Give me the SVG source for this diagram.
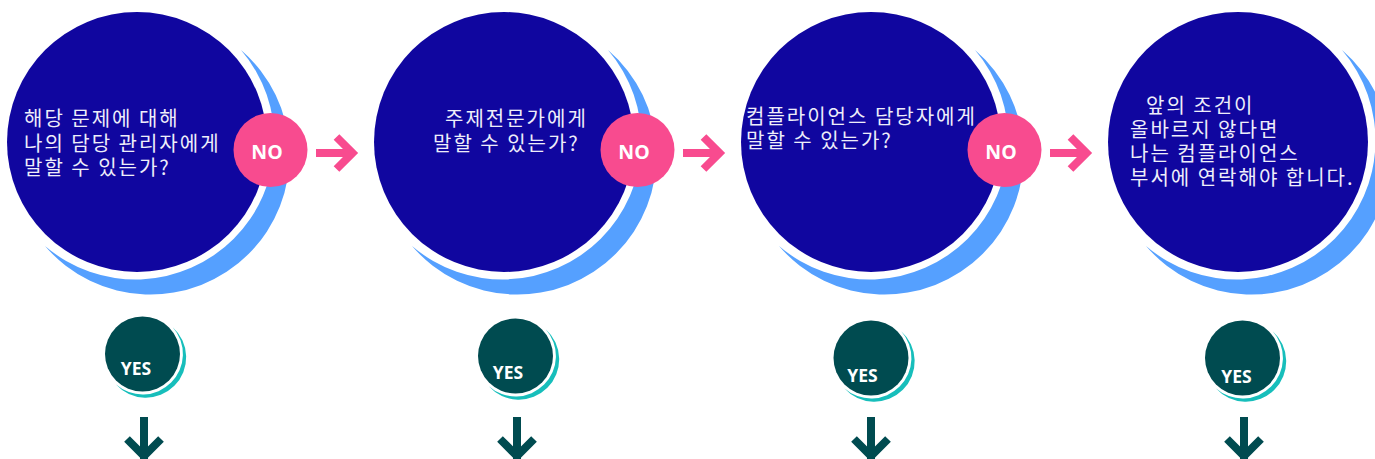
<svg xmlns="http://www.w3.org/2000/svg" xmlns:xlink="http://www.w3.org/1999/xlink" width="1375" height="459" viewBox="0 0 1375 459">
  <style>
    .big { fill: #10069F; }
    .bigc { fill: #55A0FF; }
    .no { fill: #F84B8F; }
    .yes { fill: #004B50; }
    .yesc { fill: #17BEBB; }
    .q { font-family: "Noto Sans CJK KR", "Noto Sans", sans-serif; font-size: 20px; letter-spacing: 2px; fill: #EEEEFA; }
    .lbl { font-family: "Open Sans", "Liberation Sans", sans-serif; font-weight: bold; fill: #FFFFFF; text-anchor: middle; }
    .arrowP { fill: none; stroke: #F84B8F; stroke-width: 8; stroke-linejoin: miter; }
    .arrowD { fill: none; stroke: #004B50; stroke-width: 8; stroke-linejoin: miter; }
  </style>
  <defs>
    <path id="bigCrescent" class="bigc" d="M104,-92 A139 139 0 1 1 -92,104 A139 139 0 0 0 104,-92 Z"/>
    <path id="yesCrescent" class="yesc" d="M30.2,-26.7 A40.3 40.3 0 1 1 -26.7,30.2 A40.3 40.3 0 0 0 30.2,-26.7 Z"/>
  </defs>

  <g id="node-q1">
    <use xlink:href="#bigCrescent" href="#bigCrescent" transform="translate(137,142)"/>
    <circle class="big" cx="137" cy="142" r="130"/>
    <text class="q" x="24" y="126">해당 문제에 대해</text>
    <text class="q" x="24" y="151">나의 담당 관리자에게</text>
    <text class="q" x="24" y="175">말할 수 있는가?</text>
  </g>
  <g id="node-q2">
    <use xlink:href="#bigCrescent" href="#bigCrescent" transform="translate(504,142)"/>
    <circle class="big" cx="504" cy="142" r="130"/>
    <text class="q" x="445" y="126">주제전문가에게</text>
    <text class="q" x="433" y="151">말할 수 있는가?</text>
  </g>
  <g id="node-q3">
    <use xlink:href="#bigCrescent" href="#bigCrescent" transform="translate(871,142)"/>
    <circle class="big" cx="871" cy="142" r="130"/>
    <text class="q" x="746" y="124">컴플라이언스 담당자에게</text>
    <text class="q" x="746" y="148">말할 수 있는가?</text>
  </g>
  <g id="node-q4">
    <use xlink:href="#bigCrescent" href="#bigCrescent" transform="translate(1238,142)"/>
    <circle class="big" cx="1238" cy="142" r="130"/>
    <text class="q" x="1146" y="113">앞의 조건이</text>
    <text class="q" x="1130" y="137">올바르지 않다면</text>
    <text class="q" x="1130" y="161">나는 컴플라이언스</text>
    <text class="q" x="1130" y="185">부서에 연락해야 합니다.</text>
  </g>

  <g id="node-no1">
    <circle class="no" cx="270.5" cy="150" r="37"/>
    <text class="lbl" x="267" y="159" font-size="19.5">NO</text>
  </g>
  <g id="node-no2">
    <circle class="no" cx="637.5" cy="150" r="37"/>
    <text class="lbl" x="634" y="159" font-size="19.5">NO</text>
  </g>
  <g id="node-no3">
    <circle class="no" cx="1004.5" cy="150" r="37"/>
    <text class="lbl" x="1001" y="159" font-size="19.5">NO</text>
  </g>

  <g id="node-yes1">
    <use xlink:href="#yesCrescent" href="#yesCrescent" transform="translate(142.5,354)"/>
    <circle class="yes" cx="142.5" cy="354" r="37.5"/>
    <text class="lbl" x="136" y="375" font-size="17.5">YES</text>
  </g>
  <g id="node-yes2">
    <use xlink:href="#yesCrescent" href="#yesCrescent" transform="translate(515.5,356)"/>
    <circle class="yes" cx="515.5" cy="356" r="37.5"/>
    <text class="lbl" x="508" y="379" font-size="17.5">YES</text>
  </g>
  <g id="node-yes3">
    <use xlink:href="#yesCrescent" href="#yesCrescent" transform="translate(871,358)"/>
    <circle class="yes" cx="871" cy="358" r="37.5"/>
    <text class="lbl" x="862.5" y="382" font-size="17.5">YES</text>
  </g>
  <g id="node-yes4">
    <use xlink:href="#yesCrescent" href="#yesCrescent" transform="translate(1242.5,358)"/>
    <circle class="yes" cx="1242.5" cy="358" r="37.5"/>
    <text class="lbl" x="1236.5" y="383" font-size="17.5">YES</text>
  </g>

  <g id="connectors">
    <path class="arrowP" d="M316,153 H351 M336.5,137 L352.5,153 L336.5,169"/>
    <path class="arrowP" d="M683,153 H718 M703.5,137 L719.5,153 L703.5,169"/>
    <path class="arrowP" d="M1050,153 H1085 M1070.5,137 L1086.5,153 L1070.5,169"/>
    <path class="arrowD" d="M144,417 V459 M127,439 L144,456 L161,439"/>
    <path class="arrowD" d="M517,417 V459 M500,439 L517,456 L534,439"/>
    <path class="arrowD" d="M871,417 V459 M854,439 L871,456 L888,439"/>
    <path class="arrowD" d="M1244,417 V459 M1227,439 L1244,456 L1261,439"/>
  </g>
</svg>
